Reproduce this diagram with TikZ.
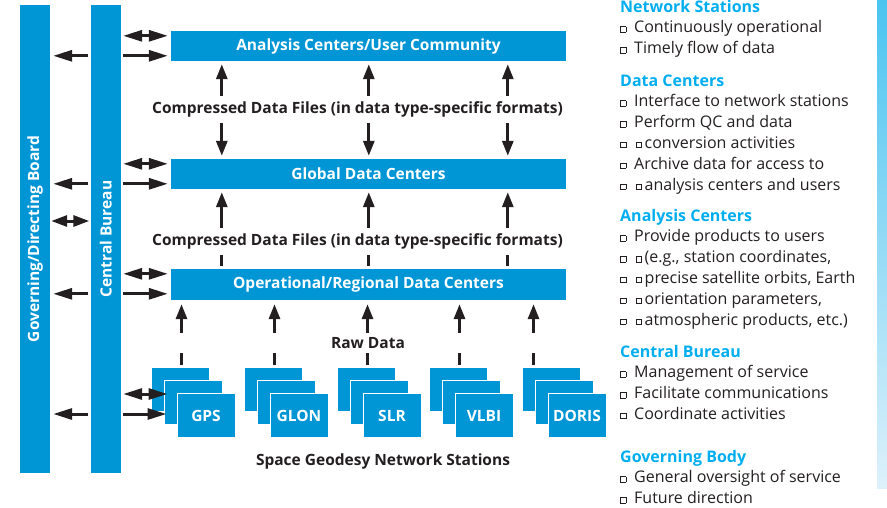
\documentclass[tikz,border=0pt]{standalone}
\usepackage{fontspec}
\setmainfont{Open Sans}
\usetikzlibrary{arrows.meta, positioning}
\definecolor{igsblue}{RGB}{0,150,214}
\definecolor{igscyan}{RGB}{0,174,239}
\definecolor{igsdark}{RGB}{35,31,32}
\definecolor{fadetop}{RGB}{74,196,240}
\definecolor{fadebot}{RGB}{222,241,251}
\newcommand{\sqr}{\raisebox{1pt}{\setlength{\fboxsep}{0pt}\setlength{\fboxrule}{0.5pt}\fbox{\rule{0pt}{5pt}\rule{5pt}{0pt}}}}
\tikzset{box/.style={rectangle,fill=igsblue,text=white,font=\bfseries\fontsize{15.5}{18}\selectfont,minimum width=395pt,minimum height=30pt,inner sep=0pt},bar/.style={rectangle,fill=igsblue,minimum width=30pt,minimum height=468pt,inner sep=0pt},bartext/.style={rotate=90,text=white,font=\bfseries\fontsize{15.5}{18}\selectfont},stn/.style={rectangle,fill=igsblue,draw=white,line width=1pt,text=white,font=\bfseries\fontsize{15.5}{18}\selectfont,minimum width=58pt,minimum height=44pt},lbl/.style={text=igsdark,font=\bfseries\fontsize{15.5}{18}\selectfont,inner xsep=0pt,inner ysep=6pt,text height=11.5pt,text depth=3.5pt},sec/.style={anchor=base west,align=left,inner sep=0pt,text=igsdark,font=\fontsize{16}{20.8}\selectfont},line/.style={draw=igsdark,line width=3pt,-{Triangle[length=15pt,width=11pt]},shorten >=3pt},hline/.style={draw=igsdark,line width=3pt,-{Triangle[length=19pt,width=11pt]},shorten >=3pt,shorten <=2pt},dline/.style={hline,{Triangle[length=19pt,width=11pt]}-{Triangle[length=19pt,width=11pt]}},seg/.style={draw=igsdark,line width=3pt,shorten >=3pt}}

\begin{document}
\begin{tikzpicture}[x=1pt,y=-1pt]
\useasboundingbox (0,0) rectangle (887,507);
% side bars
\node[bar] (gb) at (35,239) {};
\node[bartext] (gbt) at (gb) {Governing/Directing Board};
\node[bar, minimum width=30.5pt] (cb) at (105.75,239) {};
\node[bartext] (cbt) at (cb) {Central Bureau};
% data flow boxes
\node[box] (ac) at (368.5,46) {Analysis Centers/User Community};
\node[box] (gc) at (368.5,174) {Global Data Centers};
\node[box, minimum height=31pt] (op) at (368.5,284.5) {Operational/Regional Data Centers};
\node[lbl] (cf1) at (357.5,109.5) {Compressed Data Files (in data type-specific formats)};
\node[lbl] (cf2) at (357.5,241.5) {Compressed Data Files (in data type-specific formats)};
\node[lbl, text depth=0pt, inner ysep=4.25pt] (rd) at (368,343) {Raw Data};
% stations
\foreach \n/\t/\x in {gps/GPS/180, glon/GLON/273, slr/SLR/366, vlbi/VLBI/458, doris/DORIS/551} {
  \node[stn] (\n3) at (\x,389.5) {};
  \node[stn] (\n2) at ([shift={(13,13)}]\n3.center) {};
  \node[stn] (\n) at ([shift={(13,13)}]\n2.center) {\t};
}
\node[lbl] (sg) at (383,461) {Space Geodesy Network Stations};
% vertical flow
\foreach \dx in {51,198,337} {
  \path (ac.south west) ++(\dx,0) coordinate (t);
  \draw[line] (cf1.north -| t) -- (t);
  \draw[line] (cf1.south -| t) -- (gc.north -| t);
  \draw[line] (cf2.north -| t) -- (gc.south -| t);
  \draw[seg] (cf2.south -| t) -- (op.north -| t);
}
\foreach \n/\dx in {gps/31, glon/31, slr/31, vlbi/31, doris/12} {
  \path (\n3.north west) ++(\dx,0) coordinate (r);
  \draw[seg, shorten >=0pt, shorten <=2pt] (r) -- (rd.south -| r);
  \draw[line, shorten >=4pt] (rd.north -| r) -- (op.south -| r);
}
% links from the bureau
\foreach \b in {ac,gc,op} {
  \path (\b.north west) ++(0,5) coordinate (u) ++(0,20) coordinate (v);
  \draw[dline] (cb.east |- u) -- (u);
  \draw[hline] (cb.east |- v) -- (v);
  \draw[hline] (cb.west |- v) -- (gb.east |- v);
}
\coordinate (gcb) at (70,221);
\draw[dline, {Triangle[length=16pt,width=11pt]}-{Triangle[length=16pt,width=11pt]}, shorten <=1pt, shorten >=1pt] (gb.east |- gcb) -- (cb.west |- gcb);
\coordinate (s1) at (140,394);
\coordinate (s2) at (140,414);
\draw[dline, shorten >=-4pt] (cb.east |- s1) -- (gps2.west |- s1);
\draw[hline, shorten >=-3pt] (cb.east |- s2) -- (gps2.west |- s2);
\draw[hline] (cb.west |- s2) -- (gb.east |- s2);
% legend
\node[sec] (ns) at (620,53.6) {{\color{igscyan}\bfseries Network Stations}\\
\sqr\hspace{8pt}Continuously operational\\
\sqr\hspace{8pt}Timely flow of data};
\node[sec] (dc) at (620,190) {{\color{igscyan}\bfseries Data Centers}\\
\sqr\hspace{8pt}Interface to network stations\\
\sqr\hspace{8pt}Perform QC and data\\
\sqr\hspace{9.5pt}\sqr\hspace{3pt}conversion activities\\
\sqr\hspace{8pt}Archive data for access to\\
\sqr\hspace{9.5pt}\sqr\hspace{3pt}analysis centers and users};
\node[sec] (acl) at (620,325) {{\color{igscyan}\bfseries Analysis Centers}\\
\sqr\hspace{8pt}Provide products to users\\
\sqr\hspace{9.5pt}\sqr\hspace{3pt}(e.g., station coordinates,\\
\sqr\hspace{9.5pt}\sqr\hspace{3pt}precise satellite orbits, Earth\\
\sqr\hspace{9.5pt}\sqr\hspace{3pt}orientation parameters,\\
\sqr\hspace{9.5pt}\sqr\hspace{3pt}atmospheric products, etc.)};
\node[sec] (cbl) at (620,419.4) {{\color{igscyan}\bfseries Central Bureau}\\
\sqr\hspace{8pt}Management of service\\
\sqr\hspace{8pt}Facilitate communications\\
\sqr\hspace{8pt}Coordinate activities};
\node[sec] (gbl) at (620,503.6) {{\color{igscyan}\bfseries Governing Body}\\
\sqr\hspace{8pt}General oversight of service\\
\sqr\hspace{8pt}Future direction};
\shade[top color=fadetop, bottom color=fadebot] (877,0) rectangle (887,488);
\end{tikzpicture}
\end{document}
